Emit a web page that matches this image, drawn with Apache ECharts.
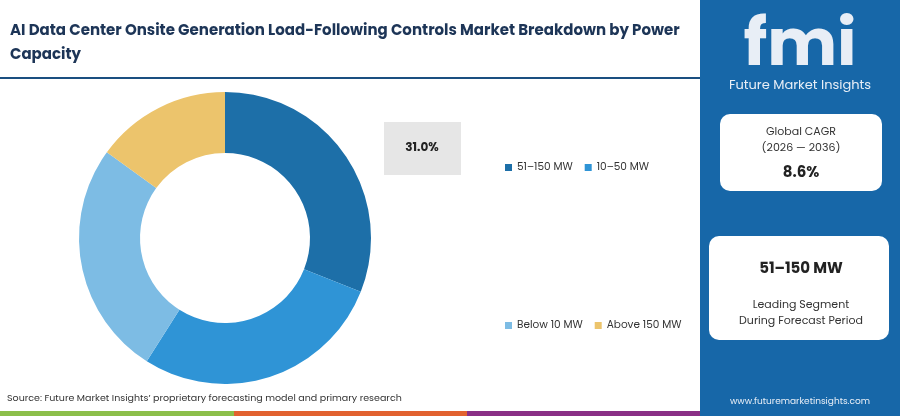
<!DOCTYPE html>
<html><head><meta charset="utf-8">
<script src="https://cdn.jsdelivr.net/npm/echarts@6/dist/echarts.min.js"></script>
<style>html,body{margin:0;padding:0;background:#fff}#chart-container{width:900px;height:416px}</style>
</head><body><div id="chart-container"></div>
<script>
var segments = ['51–150 MW', '10–50 MW', 'Below 10 MW', 'Above 150 MW'];
var shares = [31.0, 28.0, 26.0, 15.0];
var colors = ['#1d6fa8', '#2f94d6', '#7dbce4', '#ecc46c'];

var chartDom = document.getElementById('chart-container');
var myChart = echarts.init(chartDom);
var font = 'Poppins, Inter, "Noto Sans", sans-serif';

var option = {
	textStyle: { fontFamily: font },
	animation: false,
	legend: [
		{ data: segments.slice(0, 2), left: 500, top: 157, itemWidth: 7, itemHeight: 7, itemGap: 12,
		  icon: 'rect', textStyle: { fontSize: 10.5, color: '#333', fontFamily: font } },
		{ data: segments.slice(2), left: 500, top: 315, itemWidth: 7, itemHeight: 7, itemGap: 12,
		  icon: 'rect', textStyle: { fontSize: 10.5, color: '#333', fontFamily: font } }
	],
	series: [{
		type: 'pie',
		center: [225, 238],
		radius: [85, 146],
		startAngle: 90,
		clockwise: true,
		label: { show: false },
		labelLine: { show: false },
		data: segments.map(function (s, i) {
			return { name: s, value: shares[i], itemStyle: { color: colors[i] } };
		})
	}],
	graphic: [
		{ type: 'text', left: 10, top: 19, style: { text: 'AI Data Center Onsite Generation Load-Following Controls Market Breakdown by Power\nCapacity',
		  font: 'bold 15px ' + font, fill: '#1d3557', lineHeight: 24 } },
		{ type: 'rect', shape: { x: 0, y: 77, width: 700, height: 2 }, style: { fill: '#1a4f80' } },
		{ type: 'rect', shape: { x: 384, y: 122, width: 77, height: 53 }, style: { fill: '#e6e6e6' } },
		{ type: 'text', x: 422, y: 148, style: { text: shares[0].toFixed(1) + '%', font: 'bold 12px ' + font, fill: '#222', align: 'center', verticalAlign: 'middle' } },
		{ type: 'text', left: 7, top: 394, style: { text: 'Source: Future Market Insights’ proprietary forecasting model and primary research', font: '9.5px ' + font, fill: '#333' } },
		{ type: 'rect', shape: { x: 0, y: 411, width: 234, height: 5 }, style: { fill: '#8cbf4a' } },
		{ type: 'rect', shape: { x: 234, y: 411, width: 233, height: 5 }, style: { fill: '#e2622f' } },
		{ type: 'rect', shape: { x: 467, y: 411, width: 233, height: 5 }, style: { fill: '#8a2f86' } },
		{ type: 'rect', shape: { x: 700, y: 0, width: 200, height: 416 }, style: { fill: '#1767a8' } },
		{ type: 'text', x: 800, y: 48, style: { text: 'fmi', font: 'bold 66px ' + font, fill: '#e8eef6', align: 'center', verticalAlign: 'middle' } },
		{ type: 'text', x: 800, y: 86, style: { text: 'Future Market Insights', font: '13px ' + font, fill: '#e8eef6', align: 'center', verticalAlign: 'middle' } },
		{ type: 'rect', shape: { x: 720, y: 114, width: 162, height: 77, r: 10 }, style: { fill: '#fff' } },
		{ type: 'text', x: 801, y: 140, style: { text: 'Global CAGR\n(2026 — 2036)', font: '11px ' + font, fill: '#333', align: 'center', verticalAlign: 'middle', lineHeight: 16 } },
		{ type: 'text', x: 801, y: 173, style: { text: '8.6%', font: 'bold 15px ' + font, fill: '#222', align: 'center', verticalAlign: 'middle' } },
		{ type: 'rect', shape: { x: 709, y: 236, width: 180, height: 104, r: 10 }, style: { fill: '#fff' } },
		{ type: 'text', x: 801, y: 269, style: { text: segments[0], font: 'bold 15px ' + font, fill: '#222', align: 'center', verticalAlign: 'middle' } },
		{ type: 'text', x: 801, y: 313, style: { text: 'Leading Segment\nDuring Forecast Period', font: '11px ' + font, fill: '#333', align: 'center', verticalAlign: 'middle', lineHeight: 16 } },
		{ type: 'text', x: 800, y: 402, style: { text: 'www.futuremarketinsights.com', font: '9px ' + font, fill: '#e8eef6', align: 'center', verticalAlign: 'middle' } }
	]
};

myChart.setOption(option);
window.addEventListener('resize', function () { myChart.resize(); });
</script></body></html>
